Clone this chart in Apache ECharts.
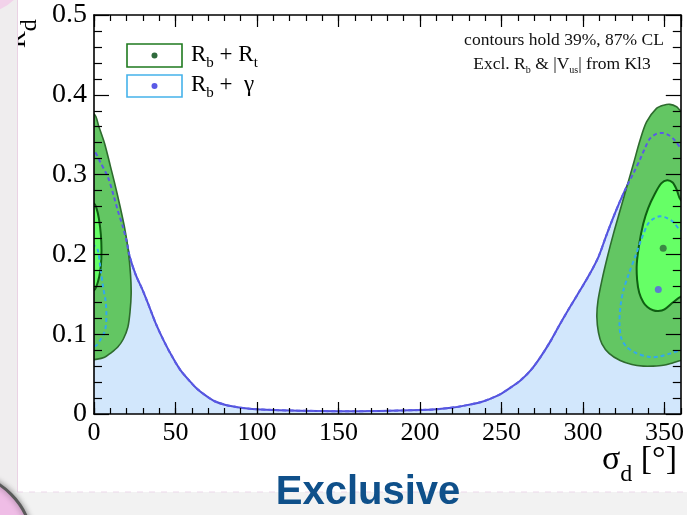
<!DOCTYPE html>
<html>
<head>
<meta charset="utf-8">
<script src="https://cdn.jsdelivr.net/npm/echarts@6/dist/echarts.min.js"></script>
<style>
    html, body { margin: 0; padding: 0; background: #fff; }
    #chart { width: 687px; height: 515px; }
</style>
</head>
<body>
<div id="chart"></div>
<script>
    // axis ranges and tick steps
    var sigmaRange = [0, 360];
    var rdRange = [0, 0.5];
    var sigmaMajor = 50, sigmaMinor = 10;
    var rdMajor = 0.1;

    // R_b + R_t, 87% CL (outer) and 39% CL (inner), [sigma_d, R_d]
    var rbRtOuterLeft = [[-10, 0.380], [0, 0.376], [3, 0.360], [6.5, 0.339], [10, 0.311], [12.7, 0.289], [16, 0.260],
        [18.7, 0.234], [21, 0.205], [22.4, 0.175], [22.8, 0.151], [22.1, 0.128], [20.8, 0.109], [18, 0.094],
        [14.6, 0.084], [10, 0.076], [6.5, 0.071], [2, 0.0688], [-10, 0.068]];
    var rbRtOuterRight = [[370, 0.372], [360, 0.380], [357.4, 0.385], [353.3, 0.388], [349.5, 0.387], [345.1, 0.383],
        [339, 0.366], [335, 0.343], [331, 0.314], [326.8, 0.284], [322.6, 0.254], [318.7, 0.226], [315, 0.197],
        [311.6, 0.1675], [309.2, 0.142], [308.5, 0.122], [309.5, 0.102], [311.6, 0.088], [316, 0.076],
        [322.8, 0.067], [330, 0.062], [337, 0.060], [343, 0.060], [349.2, 0.061], [355, 0.064], [360, 0.067],
        [370, 0.068]];
    var rbRtInnerLeft = [[-10, 0.266], [0, 0.264], [1.5, 0.258], [3, 0.245], [4.2, 0.225], [4.6, 0.205],
        [4.2, 0.185], [3.2, 0.172], [1.5, 0.160], [0, 0.155], [-10, 0.154]];
    var rbRtInnerRight = [[370, 0.255], [360, 0.268], [357.5, 0.281], [355, 0.290], [351.6, 0.293], [348, 0.289],
        [344.1, 0.276], [340, 0.258], [337, 0.2386], [334.5, 0.213], [333, 0.188], [333.2, 0.168], [334.5, 0.152],
        [337, 0.140], [339.5, 0.134], [343, 0.130], [346.2, 0.129], [350, 0.131], [355.3, 0.140], [360, 0.147],
        [370, 0.150]];

    // R_b + gamma: upper edge of the 87% CL band, and the 39% CL contour
    var rbGammaEdge = [[-6, 0.338], [0, 0.330], [4, 0.315], [8.5, 0.297], [12, 0.274], [14.6, 0.255], [17.5, 0.236],
        [19.8, 0.218], [21.8, 0.198], [25.5, 0.175], [29.9, 0.155], [34, 0.134], [38, 0.113], [43, 0.091],
        [48.2, 0.071], [53, 0.055], [58.4, 0.042], [63, 0.032], [68.6, 0.023], [74, 0.016], [80.8, 0.0113],
        [88, 0.0085], [97, 0.0063], [110, 0.005], [125, 0.0042], [150, 0.0035], [175, 0.0038], [200, 0.005],
        [210, 0.006], [219, 0.0078], [228, 0.0108], [237, 0.0147], [243, 0.019], [249.4, 0.025], [255.5, 0.033],
        [261.6, 0.042], [268, 0.055], [273.8, 0.071], [280, 0.091], [286, 0.113], [292, 0.134], [298.2, 0.155],
        [304, 0.175], [309.5, 0.197], [314, 0.222], [318.7, 0.247], [322.8, 0.267], [326.8, 0.285], [331, 0.302],
        [335, 0.319], [338, 0.333], [341, 0.345], [345, 0.351], [349.2, 0.352], [353, 0.349], [356.3, 0.343],
        [360, 0.333], [366, 0.320]];
    var rbGammaInnerLeft = [[-10, 0.213], [0, 0.211], [2.4, 0.205], [3.8, 0.185], [5.5, 0.160], [7.2, 0.140],
        [7.6, 0.120], [6.8, 0.105], [4.5, 0.095], [1.5, 0.086], [0, 0.085], [-10, 0.085]];
    var rbGammaInnerRight = [[370, 0.222], [360, 0.230], [355.3, 0.2406], [351, 0.246], [347.2, 0.2477],
        [343.5, 0.245], [340, 0.2386], [336, 0.220], [332, 0.197], [328, 0.175], [324.8, 0.155], [323, 0.135],
        [322.4, 0.113], [323.5, 0.095], [326.8, 0.084], [333, 0.076], [341, 0.0714], [347, 0.072], [353.3, 0.0757],
        [360, 0.080], [370, 0.083]];

    // best fit points
    var rbRtBest = [[349.2, 0.2076]];
    var rbGammaBest = [[346.2, 0.156]];

    var serif = 'Liberation Serif';

    // one custom series drawing a single polygon / polyline from a point list
    function shape(kind, pts, style, z) {
        return {
            type: 'custom',
            clip: true,
            silent: true,
            z: z,
            data: pts,
            renderItem: function (params, api) {
                if (params.dataIndex !== 0) return;
                return {
                    type: kind,
                    shape: { points: pts.map(function (p) { return api.coord(p); }), smooth: 0.3 },
                    style: style
                };
            }
        };
    }

    var blueFill = [[-10, 0.34]].concat(rbGammaEdge, [[370, 0.33], [370, -0.03], [-10, -0.03]]);

    var chart = echarts.init(document.getElementById('chart'));

    function xAx(pos, step, len, labels, line) {
        return {
            type: 'value', position: pos, min: sigmaRange[0], max: sigmaRange[1], interval: step, z: 10,
            axisLine: { show: line, onZero: false, lineStyle: { color: '#000', width: 1.6 } },
            axisTick: { show: true, inside: true, length: len, lineStyle: { color: '#000', width: 1.2 } },
            axisLabel: { show: labels, showMaxLabel: false, margin: 6, color: '#000', fontFamily: serif, fontSize: 26 },
            splitLine: { show: false }
        };
    }
    function yAx(pos, labels) {
        return {
            type: 'value', position: pos, min: rdRange[0], max: rdRange[1], interval: rdMajor, z: 10,
            axisLine: { show: true, onZero: false, lineStyle: { color: '#000', width: 1.6 } },
            axisTick: { show: true, inside: true, length: 15, lineStyle: { color: '#000', width: 1.2 } },
            minorTick: { show: true, splitNumber: 5, length: 8, lineStyle: { color: '#000', width: 1.2 } },
            axisLabel: { show: labels, margin: 7, color: '#000', fontFamily: serif, fontSize: 28 },
            splitLine: { show: false }
        };
    }

    var legendRich = {
        m: { fontFamily: serif, fontSize: 23, lineHeight: 33 },
        s: { fontFamily: serif, fontSize: 15, lineHeight: 15, verticalAlign: 'bottom' }
    };

    var option = {
        animation: false,
        backgroundColor: '#fff',
        grid: { left: 94, top: 15, width: 590, height: 399 },
        xAxis: [
            xAx('bottom', sigmaMajor, 12, true, true),
            xAx('bottom', sigmaMinor, 6, false, false),
            xAx('top', sigmaMajor, 12, false, true),
            xAx('top', sigmaMinor, 6, false, false)
        ],
        yAxis: [yAx('left', true), yAx('right', false)],
        series: [
            shape('polygon', blueFill, { fill: '#d2e7fc' }, 1),
            shape('polyline', rbGammaEdge, { fill: null, stroke: '#5151d8', lineWidth: 2 }, 2),
            shape('polygon', rbRtOuterLeft, { fill: '#63c663', stroke: '#2e6b2e', lineWidth: 1.6 }, 3),
            shape('polygon', rbRtOuterRight, { fill: '#63c663', stroke: '#2e6b2e', lineWidth: 1.6 }, 3),
            shape('polygon', rbRtInnerLeft, { fill: '#66ff66', stroke: '#0f5f12', lineWidth: 2 }, 4),
            shape('polygon', rbRtInnerRight, { fill: '#66ff66', stroke: '#0f5f12', lineWidth: 2 }, 4),
            shape('polyline', rbGammaEdge, { fill: null, stroke: '#5a5ae6', lineWidth: 2, lineDash: [4, 3] }, 5),
            shape('polyline', rbGammaInnerLeft, { fill: null, stroke: '#33a9ec', lineWidth: 2, lineDash: [4, 3] }, 5),
            shape('polyline', rbGammaInnerRight, { fill: null, stroke: '#33a9ec', lineWidth: 2, lineDash: [4, 3] }, 5),
            { type: 'scatter', data: rbRtBest, symbolSize: 7, itemStyle: { color: '#2f6a3c' }, z: 6, silent: true },
            { type: 'scatter', data: rbGammaBest, symbolSize: 7, itemStyle: { color: '#5b5be8' }, z: 6, silent: true }
        ],
        graphic: [
            // legend
            { type: 'rect', shape: { x: 127, y: 44, width: 55, height: 23 }, style: { fill: '#fff', stroke: '#1f7a1f', lineWidth: 1.6 }, z: 20 },
            { type: 'circle', shape: { cx: 154.5, cy: 55.5, r: 3 }, style: { fill: '#2f6a3c' }, z: 21 },
            { type: 'rect', shape: { x: 127, y: 75, width: 55, height: 22 }, style: { fill: '#fff', stroke: '#45b2ea', lineWidth: 1.6 }, z: 20 },
            { type: 'circle', shape: { cx: 154.5, cy: 86, r: 3 }, style: { fill: '#5a5ae6' }, z: 21 },
            {
                type: 'text', x: 191, y: 54.5, z: 21,
                style: { text: '{m|R}{s|b}{m| + R}{s|t}', fill: '#000', verticalAlign: 'middle', align: 'left', rich: legendRich }
            },
            {
                type: 'text', x: 191, y: 84.5, z: 21,
                style: { text: '{m|R}{s|b}{m| +  γ}', fill: '#000', verticalAlign: 'middle', align: 'left', rich: legendRich }
            },
            // notes
            {
                type: 'text', x: 564, y: 40.5, z: 21,
                style: { text: 'contours hold 39%, 87% CL', fill: '#111', font: '17.5px "Liberation Serif"', align: 'center', verticalAlign: 'middle' }
            },
            {
                type: 'text', x: 562, y: 64, z: 21,
                style: {
                    text: '{m|Excl. R}{s|b}{m| & |V}{s|us}{m|| from Kl3}', fill: '#111', align: 'center', verticalAlign: 'middle',
                    rich: { m: { fontFamily: serif, fontSize: 17.5, lineHeight: 23 }, s: { fontFamily: serif, fontSize: 10, lineHeight: 10, verticalAlign: 'bottom' } }
                }
            },
            // axis titles
            {
                type: 'text', x: 677, y: 460, z: 21,
                style: {
                    text: '{m|σ}{s|d}{m| [°]}', fill: '#000', align: 'right', verticalAlign: 'middle',
                    rich: { m: { fontFamily: serif, fontSize: 34, lineHeight: 54 }, s: { fontFamily: serif, fontSize: 24, lineHeight: 24, verticalAlign: 'bottom' } }
                }
            },
            {
                type: 'text', x: 18.5, y: 48, rotation: Math.PI / 2, z: 21,
                style: {
                    text: '{m|R}{s|d}', fill: '#000', align: 'left', verticalAlign: 'middle',
                    rich: { m: { fontFamily: serif, fontSize: 25, lineHeight: 47 }, s: { fontFamily: serif, fontSize: 24, lineHeight: 24, verticalAlign: 'bottom' } }
                }
            },
            // slide frame around the plot
            { type: 'rect', shape: { x: 0, y: 0, width: 17, height: 515 }, style: { fill: '#efedee' }, z: 100 },
            { type: 'line', shape: { x1: 17.5, y1: 0, x2: 17.5, y2: 492 }, style: { stroke: '#ead2e4', lineWidth: 1 }, z: 101 },
            { type: 'rect', shape: { x: 0, y: 492, width: 687, height: 23 }, style: { fill: '#f2f2f2' }, z: 100 },
            { type: 'line', shape: { x1: 17, y1: 492, x2: 687, y2: 492 }, style: { stroke: '#ecd8ea', lineWidth: 1, lineDash: [6, 6] }, z: 101 },
            { type: 'circle', shape: { cx: -40, cy: 545, r: 72 }, style: { fill: '#efbde6', stroke: '#5a5a5a', lineWidth: 3, shadowBlur: 6, shadowColor: 'rgba(0,0,0,0.4)' }, z: 102 },
            { type: 'circle', shape: { cx: -14, cy: -26, r: 38 }, style: { fill: '#f2d2ea' }, z: 102 },
            {
                type: 'text', x: 368, y: 493, z: 103,
                style: { text: 'Exclusive', fill: '#0f508a', font: 'bold 40px "Liberation Sans"', align: 'center', verticalAlign: 'middle' }
            }
        ]
    };

    chart.setOption(option);
</script>
</body>
</html>
